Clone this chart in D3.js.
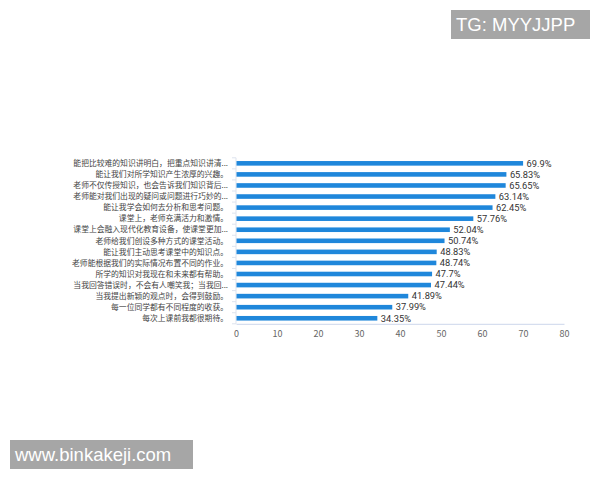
<!DOCTYPE html>
<html>
<head>
<meta charset="utf-8">
<script src="https://cdn.jsdelivr.net/npm/d3@7"></script>
<style>
  body { margin: 0; background: #fff; }
  svg { display: block; }
</style>
</head>
<body>
<svg id="chart" width="600" height="480"></svg>
<script>
const categories = [
  '能把比较难的知识讲明白，把重点知识讲清...',
  '能让我们对所学知识产生浓厚的兴趣。',
  '老师不仅传授知识，也会告诉我们知识背后...',
  '老师能对我们出现的疑问或问题进行巧妙的...',
  '能让我学会如何去分析和思考问题。',
  '课堂上，老师充满活力和激情。',
  '课堂上会融入现代化教育设备，使课堂更加...',
  '老师给我们创设多种方式的课堂活动。',
  '能让我们主动思考课堂中的知识点。',
  '老师能根据我们的实际情况布置不同的作业。',
  '所学的知识对我现在和未来都有帮助。',
  '当我回答错误时，不会有人嘲笑我；当我回...',
  '当我提出新颖的观点时，会得到鼓励。',
  '每一位同学都有不同程度的收获。',
  '每次上课前我都很期待。'
]
const values = [69.9, 65.83, 65.65, 63.14, 62.45, 57.76, 52.04, 50.74, 48.83, 48.74, 47.7, 47.44, 41.89, 37.99, 34.35]
const valueLabels = ['69.9%', '65.83%', '65.65%', '63.14%', '62.45%', '57.76%', '52.04%', '50.74%', '48.83%', '48.74%', '47.7%', '47.44%', '41.89%', '37.99%', '34.35%']
const xTicks = [0, 10, 20, 30, 40, 50, 60, 70, 80]

const font = '"Noto Sans CJK SC", "Noto Sans", sans-serif'
const svg = d3.select('#chart')

const x = d3.scaleLinear().domain([0, 80]).range([236, 564])
const y = d3.scaleBand().domain(d3.range(categories.length)).range([157.8, 323.8])

// y axis line + ticks at band edges
svg.append('line')
  .attr('x1', 236).attr('x2', 236)
  .attr('y1', y.range()[0]).attr('y2', y.range()[1])
  .attr('stroke', '#dde3ee')
svg.append('g').selectAll('line')
  .data(d3.range(categories.length + 1))
  .join('line')
    .attr('x1', 232).attr('x2', 236)
    .attr('y1', i => y.range()[0] + i * y.step())
    .attr('y2', i => y.range()[0] + i * y.step())
    .attr('stroke', '#dde3ee')

// category labels
svg.append('g').selectAll('text')
  .data(categories)
  .join('text')
    .attr('x', 228)
    .attr('y', (d, i) => y(i) + y.bandwidth() / 2)
    .attr('dy', '0.35em')
    .attr('text-anchor', 'end')
    .attr('font-family', font)
    .attr('font-size', 7.8)
    .attr('fill', '#444')
    .text(d => d)

// x axis
const xAxis = svg.append('g')
  .attr('transform', 'translate(0,' + y.range()[1] + ')')
  .call(d3.axisBottom(x).tickValues(xTicks).tickSize(0).tickPadding(7))
xAxis.select('.domain').attr('stroke', '#ccd6eb')
xAxis.selectAll('text')
  .attr('font-family', font)
  .attr('font-size', 9)
  .attr('fill', '#666')

// bars
svg.append('g')
  .attr('fill', '#1f87db')
  .selectAll('rect')
  .data(values)
  .join('rect')
    .attr('x', x(0) + 0.5)
    .attr('y', (d, i) => y(i) + y.bandwidth() / 2 - 2.3)
    .attr('width', d => x(d) - x(0))
    .attr('height', 4.6)

// value labels
svg.append('g').selectAll('text')
  .data(values)
  .join('text')
    .attr('x', d => x(d) + 4)
    .attr('y', (d, i) => y(i) + y.bandwidth() / 2)
    .attr('dy', '0.35em')
    .attr('font-family', 'Roboto, "Liberation Sans", sans-serif')
    .attr('font-size', 9.3)
    .attr('fill', '#333')
    .text((d, i) => valueLabels[i])

// watermarks
const marks = [
  {text: 'TG: MYYJJPP', x: 451, y: 10, w: 139, h: 29},
  {text: 'www.binkakeji.com', x: 10, y: 440, w: 183, h: 29}
]
marks.forEach(m => {
  svg.append('rect')
    .attr('x', m.x).attr('y', m.y).attr('width', m.w).attr('height', m.h)
    .attr('fill', '#a6a6a6')
  svg.append('text')
    .attr('x', m.x + 5).attr('y', m.y + m.h / 2)
    .attr('dy', '0.35em')
    .attr('font-family', '"Liberation Sans", Arial, sans-serif')
    .attr('font-size', 18.5)
    .attr('fill', '#fff')
    .text(m.text)
})
</script>
</body>
</html>
